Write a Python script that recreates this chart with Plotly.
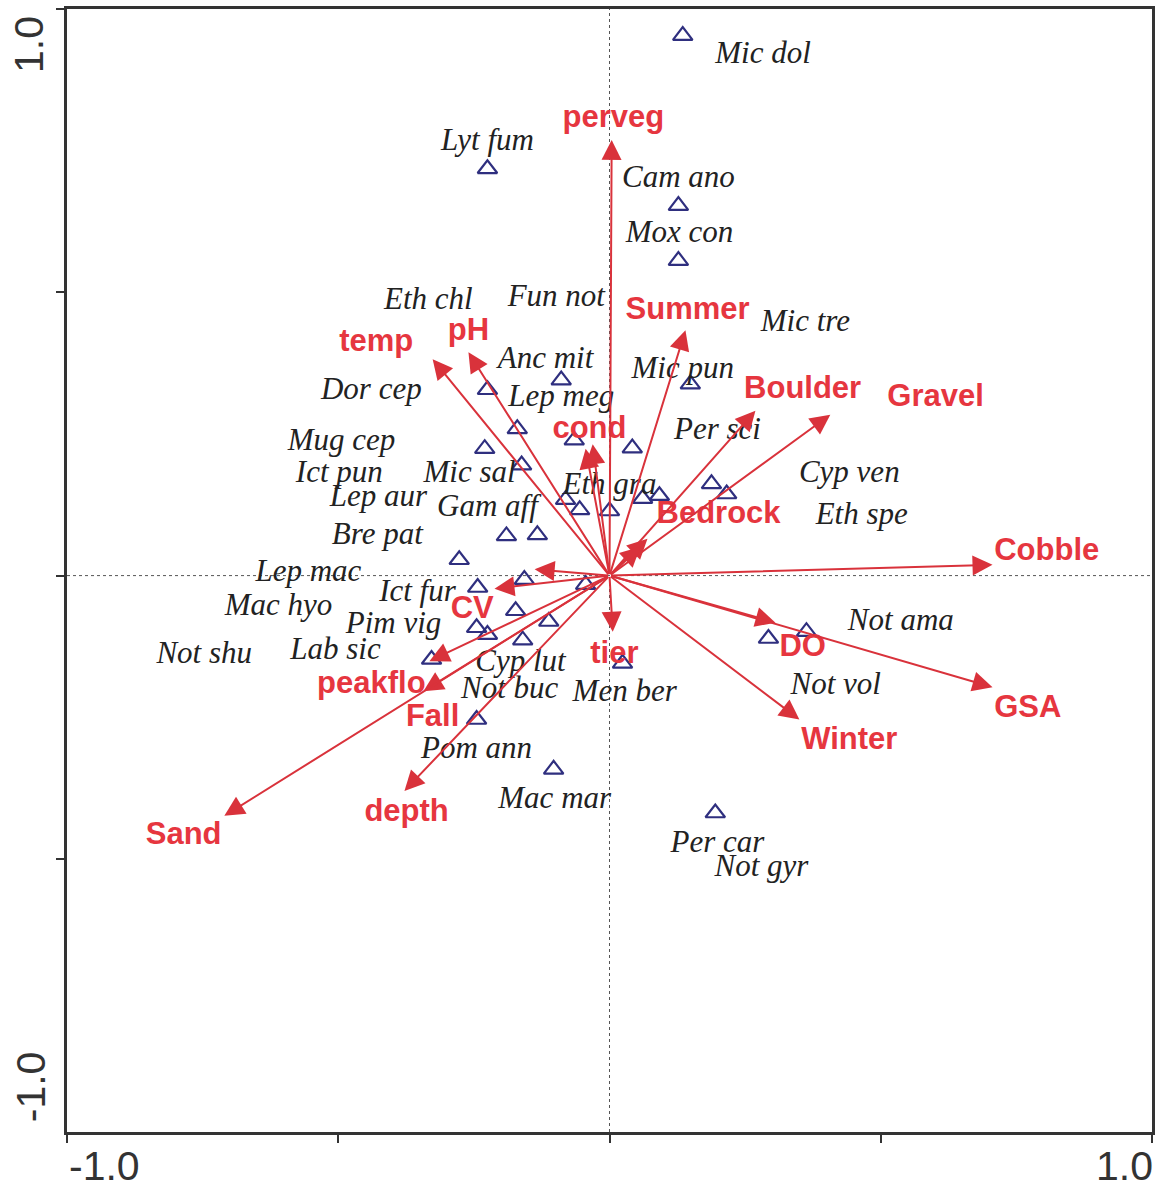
import plotly.graph_objects as go

# ---- species scores (triangles) on CCA axes 1 and 2 ----
sp_axis1 = [0.135, -0.225, 0.127, 0.127, -0.089, 0.149, -0.225, -0.170, -0.230, -0.065,
            0.042, -0.162, 0.188, 0.216, -0.081, -0.055, 0.000, 0.061, 0.092, -0.190,
            -0.133, -0.277, -0.243, -0.157, -0.044, -0.173, -0.112, -0.245, -0.225, -0.160,
            -0.328, 0.024, -0.245, -0.103, 0.195, 0.293, 0.363]
sp_axis2 = [0.953, 0.718, 0.653, 0.556, 0.345, 0.338, 0.328, 0.259, 0.224, 0.239,
            0.225, 0.195, 0.162, 0.144, 0.134, 0.116, 0.114, 0.136, 0.141, 0.070,
            0.072, 0.028, -0.021, -0.007, -0.016, -0.062, -0.081, -0.092, -0.104, -0.114,
            -0.148, -0.155, -0.254, -0.342, -0.419, -0.111, -0.099]

# ---- species name labels ----
sp_names = ["Mic dol", "Lyt fum", "Cam ano", "Mox con", "Eth chl", "Fun not", "Mic tre",
            "Anc mit", "Mic pun", "Dor cep", "Lep meg", "Mug cep", "Per sci", "Ict pun",
            "Mic sal", "Eth gra", "Cyp ven", "Lep aur", "Gam aff", "Eth spe", "Bre pat",
            "Lep mac", "Ict fur", "Mac hyo", "Pim vig", "Not ama", "Not shu", "Lab sic",
            "Cyp lut", "Not buc", "Men ber", "Not vol", "Pom ann", "Mac mar", "Per car",
            "Not gyr"]
sp_name_x = [0.283, -0.225, 0.127, 0.129, -0.334, -0.098, 0.361, -0.118, 0.135, -0.439,
             -0.089, -0.494, 0.199, -0.498, -0.258, 0.000, 0.442, -0.426, -0.225, 0.465,
             -0.428, -0.555, -0.354, -0.610, -0.398, 0.537, -0.747, -0.505, -0.164, -0.184,
             0.028, 0.417, -0.245, -0.101, 0.199, 0.280]
sp_name_y = [0.919, 0.764, 0.699, 0.602, 0.484, 0.489, 0.445, 0.380, 0.363, 0.326,
             0.313, 0.236, 0.255, 0.178, 0.178, 0.157, 0.178, 0.136, 0.118, 0.104,
             0.070, 0.005, -0.032, -0.055, -0.088, -0.083, -0.141, -0.134, -0.155, -0.203,
             -0.208, -0.195, -0.308, -0.396, -0.474, -0.516]

# ---- environmental variable arrows (biplot scores) ----
env_axis1 = [0.004, 0.140, -0.326, -0.260, -0.044, -0.031, 0.269, 0.407, 0.070, 0.057,
             0.706, -0.138, -0.212, 0.006, 0.306, 0.706, 0.350, -0.332, -0.343, -0.710,
             -0.378]
env_axis2 = [0.769, 0.433, 0.382, 0.394, 0.224, 0.232, 0.291, 0.284, 0.065, 0.051,
             0.019, 0.011, -0.023, -0.099, -0.083, -0.197, -0.254, -0.151, -0.204, -0.424,
             -0.380]

# ---- environmental variable names ----
env_names = ["perveg", "Summer", "temp", "pH", "cond", "Boulder", "Gravel", "Bedrock",
             "Cobble", "CV", "tier", "DO", "peakflo", "GSA", "Fall", "Winter", "depth", "Sand"]
env_name_x = [0.007, 0.144, -0.430, -0.260, -0.037, 0.356, 0.601, 0.201, 0.806, -0.253,
              0.009, 0.356, -0.439, 0.771, -0.326, 0.442, -0.374, -0.785]
env_name_y = [0.806, 0.467, 0.410, 0.430, 0.257, 0.328, 0.313, 0.106, 0.041, -0.062,
              -0.141, -0.129, -0.194, -0.236, -0.252, -0.292, -0.419, -0.460]

# ---- axis ticks ----
x_tick_vals = [-1.0, -0.5, 0.0, 0.5, 1.0]
y_tick_vals = [-0.5, 0.0, 0.5, 1.0]
x_tick_text = ["-1.0", "1.0"]
y_tick_text = ["1.0", "-1.0"]

X_RANGE = [-1.0, 1.0]
Y_RANGE = [-0.982, 1.0]

AXIS_COLOR = "#333333"
ARROW_RED = "#d9323b"
LABEL_RED = "#e6363f"
SPECIES_BLUE = "#2f2f7f"
TEXT_DARK = "#222222"

fig = go.Figure()

# species triangles
fig.add_trace(go.Scatter(
    x=sp_axis1, y=sp_axis2, mode="markers",
    marker=dict(symbol="triangle-up-open", size=17, color=SPECIES_BLUE,
                line=dict(width=2.2, color=SPECIES_BLUE)),
    hoverinfo="skip", showlegend=False,
))

# species names (italic serif)
fig.add_trace(go.Scatter(
    x=sp_name_x, y=sp_name_y, mode="text",
    text=[f"<i>{n}</i>" for n in sp_names],
    textposition="middle center",
    textfont=dict(family="Liberation Serif, Times New Roman, serif", size=31, color=TEXT_DARK),
    hoverinfo="skip", showlegend=False,
))

# arrows from the origin to each biplot score
for ex, ey in zip(env_axis1, env_axis2):
    fig.add_annotation(
        x=ex, y=ey, ax=0, ay=0, xref="x", yref="y", axref="x", ayref="y",
        text="", showarrow=True, arrowhead=2, arrowsize=2.0, arrowwidth=2,
        arrowcolor=ARROW_RED, standoff=0, startstandoff=0,
    )

# environmental variable names (bold sans)
fig.add_trace(go.Scatter(
    x=env_name_x, y=env_name_y, mode="text",
    text=[f"<b>{n}</b>" for n in env_names],
    textposition="middle center",
    textfont=dict(family="Liberation Sans, Arial, sans-serif", size=31, color=LABEL_RED),
    hoverinfo="skip", showlegend=False,
))

# dotted reference lines through the origin
fig.add_shape(type="line", x0=0, x1=0, y0=Y_RANGE[0], y1=Y_RANGE[1], xref="x", yref="y",
              line=dict(color="#555555", width=1, dash="dot"), layer="below")
fig.add_shape(type="line", x0=X_RANGE[0], x1=X_RANGE[1], y0=0, y1=0, xref="x", yref="y",
              line=dict(color="#555555", width=1, dash="dot"), layer="below")

tick_font = dict(family="Liberation Sans, Arial, sans-serif", size=41, color=AXIS_COLOR)

# end labels of the axes, set flush with the frame corners
fig.add_annotation(text=x_tick_text[0], xref="paper", yref="paper", x=0.035, y=-0.030,
                   xanchor="center", yanchor="middle", showarrow=False, font=tick_font)
fig.add_annotation(text=x_tick_text[1], xref="paper", yref="paper", x=0.975, y=-0.030,
                   xanchor="center", yanchor="middle", showarrow=False, font=tick_font)
fig.add_annotation(text=y_tick_text[0], xref="paper", yref="paper", x=-0.035, y=0.968,
                   xanchor="center", yanchor="middle", showarrow=False, font=tick_font,
                   textangle=-90)
fig.add_annotation(text=y_tick_text[1], xref="paper", yref="paper", x=-0.033, y=0.040,
                   xanchor="center", yanchor="middle", showarrow=False, font=tick_font,
                   textangle=-90)

fig.update_xaxes(range=X_RANGE, tickvals=x_tick_vals, showticklabels=False,
                 ticks="outside", ticklen=8, tickwidth=2, tickcolor=AXIS_COLOR,
                 showline=True, linewidth=3, linecolor=AXIS_COLOR, mirror=True,
                 showgrid=False, zeroline=False, fixedrange=True)
fig.update_yaxes(range=Y_RANGE, tickvals=y_tick_vals, showticklabels=False,
                 ticks="outside", ticklen=8, tickwidth=2, tickcolor=AXIS_COLOR,
                 showline=True, linewidth=3, linecolor=AXIS_COLOR, mirror=True,
                 showgrid=False, zeroline=False, fixedrange=True)

fig.update_layout(
    width=1163, height=1191,
    margin=dict(l=67, r=11, t=6, b=59),
    paper_bgcolor="white", plot_bgcolor="white",
    showlegend=False,
)

fig.write_html("out.html")
